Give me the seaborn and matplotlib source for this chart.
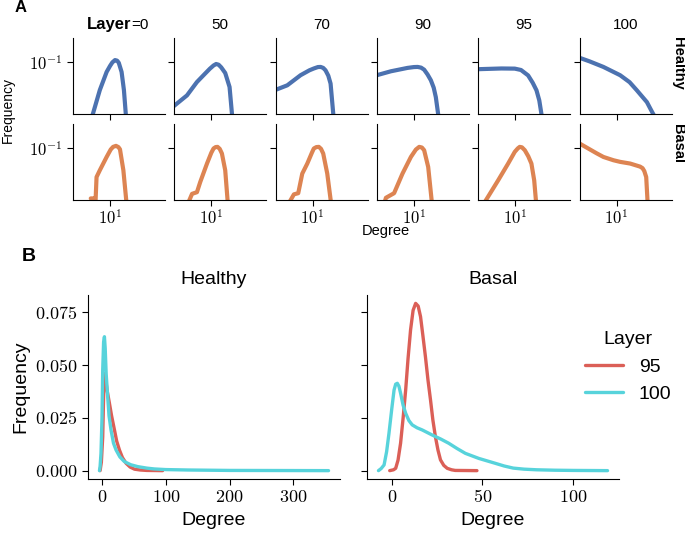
import pandas as pd
import matplotlib
matplotlib.use("Agg")
import matplotlib.pyplot as plt
import matplotlib.ticker as mticker
import seaborn as sns

# ---- panel A data: degree distributions per layer (log-log) ----
layers = [0, 50, 70, 90, 95, 100]

healthy_deg = {
    0: [2.9, 4.9, 7.9, 10.0, 11.8, 14.2, 16.5, 18.5, 22.5, 26.5, 30.5],
    50: [0.7, 1.82, 3.66, 5.8, 9.0, 11.7, 14.0, 16.7, 20.0, 26.5, 35.9, 43],
    70: [0.7, 1.7, 4.3, 8.0, 10.9, 14.5, 17.5, 21.0, 24.7, 30.0, 35.2, 43],
    90: [0.7, 2.0, 6.4, 10.0, 13.0, 16.5, 20.5, 26.0, 32.8, 40.0, 46.4, 55.5],
    95: [0.7, 3.8, 9.7, 15.0, 24.7, 34.0, 44.4, 54.0, 64],
    100: [0.7, 1.5, 4.0, 12.9, 25.0, 41.6, 62.0, 84, 110, 140],
}
healthy_freq = {
    0: [0.009, 0.0287, 0.065, 0.085, 0.1, 0.111, 0.108, 0.098, 0.065, 0.0287, 0.009],
    50: [0.0137, 0.0226, 0.0413, 0.0561, 0.075, 0.087, 0.093, 0.09, 0.08, 0.062, 0.033, 0.009],
    70: [0.0285, 0.0356, 0.0561, 0.07, 0.076, 0.081, 0.0815, 0.078, 0.070, 0.055, 0.0385, 0.009],
    90: [0.0555, 0.067, 0.078, 0.081, 0.0815, 0.079, 0.072, 0.058, 0.0447, 0.032, 0.0209, 0.009],
    95: [0.0735, 0.076, 0.0755, 0.071, 0.0556, 0.04, 0.0284, 0.018, 0.009],
    100: [0.125, 0.105, 0.0815, 0.0561, 0.041, 0.0284, 0.021, 0.0167, 0.012, 0.009],
}
basal_deg = {
    0: [2.6, 3.3, 3.6, 3.9, 4.9, 7.9, 10.5, 12.4, 15.2, 18.0, 20.1, 25.5, 31.5],
    50: [2.05, 2.6, 3.66, 4.6, 7.4, 10.0, 11.7, 13.5, 15.5, 18.0, 21, 26.5, 31.5],
    70: [2.0, 2.7, 3.66, 4.85, 6.9, 9.5, 10.9, 13.0, 15.5, 18.0, 21, 27.9, 36],
    90: [1.3, 1.41, 2.5, 4.5, 8.1, 11.5, 14.5, 17.5, 20.5, 27.2, 35],
    95: [1.2, 3.03, 6.1, 9.7, 12.0, 13.7, 16.0, 19.6, 25.0, 31.1, 37.8, 43],
    100: [0.7, 2.5, 4.0, 8.1, 12.9, 26, 52, 62, 70, 80, 88],
}
basal_freq = {
    0: [0.0105, 0.0105, 0.008, 0.0275, 0.0373, 0.068, 0.095, 0.107, 0.112, 0.106, 0.096, 0.0373, 0.009],
    50: [0.009, 0.0129, 0.0139, 0.0219, 0.0505, 0.082, 0.0995, 0.106, 0.107, 0.098, 0.0795, 0.0373, 0.009],
    70: [0.009, 0.0126, 0.0133, 0.0321, 0.0505, 0.082, 0.0995, 0.106, 0.107, 0.098, 0.0795, 0.0321, 0.009],
    90: [0.009, 0.0108, 0.0133, 0.0321, 0.068, 0.095, 0.107, 0.104, 0.092, 0.0433, 0.009],
    95: [0.009, 0.0237, 0.0505, 0.0855, 0.1, 0.107, 0.105, 0.092, 0.07, 0.0505, 0.0237, 0.009],
    100: [0.128, 0.08, 0.068, 0.0586, 0.0545, 0.0505, 0.044, 0.041, 0.036, 0.0275, 0.009],
}

# ---- panel B data: KDE of degree, layers 95 and 100 ----
h95_deg = [-3, -1, 1.1, 2.5, 3.8, 5.5, 8, 11.6, 15, 19.5, 23, 27.3, 32, 37.7, 44, 50.9, 60, 70, 95]
h95_freq = [0, 0.004, 0.016, 0.035, 0.046, 0.044, 0.038, 0.032, 0.026, 0.0193, 0.014, 0.0098,
            0.0062, 0.0035, 0.0017, 0.0007, 0.0003, 0.0001, 0]
h100_deg = [-4, -3, -1.6, 0, 1.1, 2.5, 3.8, 5, 6.5, 8.9, 11, 14.1, 18, 22, 28, 35, 45, 56, 70,
            82, 100, 135, 200, 280, 355]
h100_freq = [0, 0.002, 0.0082, 0.025, 0.0477, 0.061, 0.0635, 0.058, 0.046, 0.035, 0.026, 0.0193,
             0.013, 0.0098, 0.0065, 0.0043, 0.0028, 0.0019, 0.0012, 0.0008, 0.0005, 0.0003,
             0.0001, 0.00005, 0]
b95_deg = [-1.1, 1, 2.2, 3.5, 4.9, 6.3, 7.7, 9, 10.4, 11.8, 13.2, 14.6, 15.9, 17.2, 18.6, 20,
           21.4, 22.7, 24.1, 25.5, 26.9, 28.7, 30.6, 33, 35, 47]
b95_freq = [0, 0.0004, 0.0011, 0.005, 0.013, 0.025, 0.0382, 0.053, 0.0667, 0.076, 0.0793, 0.078,
            0.073, 0.064, 0.054, 0.043, 0.0335, 0.024, 0.0161, 0.0098, 0.0051, 0.0025, 0.0011,
            0.0004, 0.0001, 0]
b100_deg = [-7.3, -5.8, -4.2, -2.8, -1.5, 0, 1.3, 2.2, 3.1, 4, 4.9, 6.3, 7.7, 9.5, 11.3, 14,
            16.8, 22.3, 27, 31.4, 36, 40.6, 48, 57, 62, 67, 73, 80, 90, 100, 119]
b100_freq = [0, 0.001, 0.0027, 0.009, 0.0177, 0.029, 0.0382, 0.041, 0.0414, 0.040, 0.0367,
             0.031, 0.0272, 0.0237, 0.0217, 0.0203, 0.0193, 0.0169, 0.015, 0.013, 0.0105,
             0.0082, 0.0058, 0.0035, 0.0022, 0.0012, 0.0007, 0.0004, 0.0002, 0.0001, 0]

sns.set_style("ticks")
plt.rcParams["font.family"] = ["Liberation Sans", "DejaVu Sans"]
plt.rcParams["mathtext.fontset"] = "cm"
for k in ["text.color", "axes.labelcolor", "xtick.color", "ytick.color", "axes.edgecolor"]:
    plt.rcParams[k] = "black"

fig = plt.figure(figsize=(6.85, 5.38), dpi=100)
W, H = 685.0, 538.0

blue, orange = sns.color_palette("deep")[0], sns.color_palette("deep")[1]

# ---- panel A ----
row_tops = [38, 124]
for r, (degs, freqs, col) in enumerate([(healthy_deg, healthy_freq, blue),
                                         (basal_deg, basal_freq, orange)]):
    for c, layer in enumerate(layers):
        left = 73 + c * 101.3
        ax = fig.add_axes([left / W, 1 - (row_tops[r] + 75.5) / H, 92 / W, 75.5 / H])
        sns.lineplot(x=degs[layer], y=freqs[layer], ax=ax, color=col, lw=3, sort=False)
        ax.set_xscale("log")
        ax.set_yscale("log")
        ax.set_xlim(0.75, 470)
        ax.set_ylim(0.01, 0.3)
        ax.set_xticks([10])
        ax.set_yticks([0.1])
        ax.xaxis.set_minor_locator(mticker.NullLocator())
        ax.yaxis.set_minor_locator(mticker.NullLocator())
        ax.xaxis.set_major_formatter(mticker.FixedFormatter([r"$10^1$"]))
        ax.yaxis.set_major_formatter(mticker.FixedFormatter([r"$10^{-1}$"]))
        ax.tick_params(labelsize=12, length=4)
        ax.tick_params(axis="x", pad=2)
        if r == 0:
            ax.tick_params(labelbottom=False)
        if c > 0:
            ax.tick_params(labelleft=False)
        sns.despine(ax=ax)
        if r == 0:
            cx = (left + 46) / W
            if c == 0:
                fig.text(131.5 / W, 1 - 25 / H, "Layer", ha="right", va="center",
                         fontsize=12, fontweight="bold")
                fig.text(131.5 / W, 1 - 25 / H, "=0", ha="left", va="center", fontsize=11)
            else:
                fig.text(cx, 1 - 25 / H, str(layer), ha="center", va="center", fontsize=11)

fig.text(678 / W, 1 - 63 / H, "Healthy", rotation=-90, ha="center", va="center",
         fontsize=10.5, fontweight="bold")
fig.text(678 / W, 1 - 144 / H, "Basal", rotation=-90, ha="center", va="center",
         fontsize=10.5, fontweight="bold")
fig.text(8 / W, 1 - 110 / H, "Frequency", rotation=90, ha="center", va="center", fontsize=10)
fig.text(385.5 / W, 1 - 231 / H, "Degree", ha="center", va="center", fontsize=10.5)
fig.text(21 / W, 1 - 8 / H, "A", ha="center", va="center", fontsize=12, fontweight="bold")

# ---- panel B ----
hls = sns.color_palette("hls", 2)
healthy_df = pd.DataFrame({
    "Degree": h95_deg + h100_deg,
    "Frequency": h95_freq + h100_freq,
    "Layer": ["95"] * len(h95_deg) + ["100"] * len(h100_deg),
})
basal_df = pd.DataFrame({
    "Degree": b95_deg + b100_deg,
    "Frequency": b95_freq + b100_freq,
    "Layer": ["95"] * len(b95_deg) + ["100"] * len(b100_deg),
})

ax_h = fig.add_axes([88 / W, 1 - 479 / H, 252 / W, 184 / H])
ax_b = fig.add_axes([367 / W, 1 - 479 / H, 252 / W, 184 / H], sharey=ax_h)

for ax, df, title in [(ax_h, healthy_df, "Healthy"), (ax_b, basal_df, "Basal")]:
    sns.lineplot(data=df, x="Degree", y="Frequency", hue="Layer", hue_order=["95", "100"],
                 palette=hls, lw=2.4, ax=ax, legend=(ax is ax_b))
    ax.set_title(title, fontsize=14, pad=8)
    ax.set_xlabel("Degree", fontsize=14)
    ax.tick_params(labelsize=13, length=4)
    sns.despine(ax=ax)

ax_h.set_ylabel("Frequency", fontsize=14)
ax_b.set_ylabel("")
ax_h.set_xticks([0, 100, 200, 300])
ax_b.set_xticks([0, 50, 100])
ax_h.set_yticks([0, 0.025, 0.05, 0.075])
ax_h.yaxis.set_major_formatter(mticker.FuncFormatter(lambda v, p: rf"${v:.3f}$"))
ax_h.xaxis.set_major_formatter(mticker.FuncFormatter(lambda v, p: rf"${v:.0f}$"))
ax_b.xaxis.set_major_formatter(mticker.FuncFormatter(lambda v, p: rf"${v:.0f}$"))
ax_b.tick_params(labelleft=False)

leg = ax_b.legend(title="Layer", loc="upper left", bbox_to_anchor=(567 / W, 1 - 314 / H),
                  bbox_transform=fig.transFigure, frameon=False, fontsize=14,
                  title_fontsize=14)

fig.text(28.5 / W, 1 - 256.5 / H, "B", ha="center", va="center", fontsize=14, fontweight="bold")

fig.savefig("out.png", dpi=100)
